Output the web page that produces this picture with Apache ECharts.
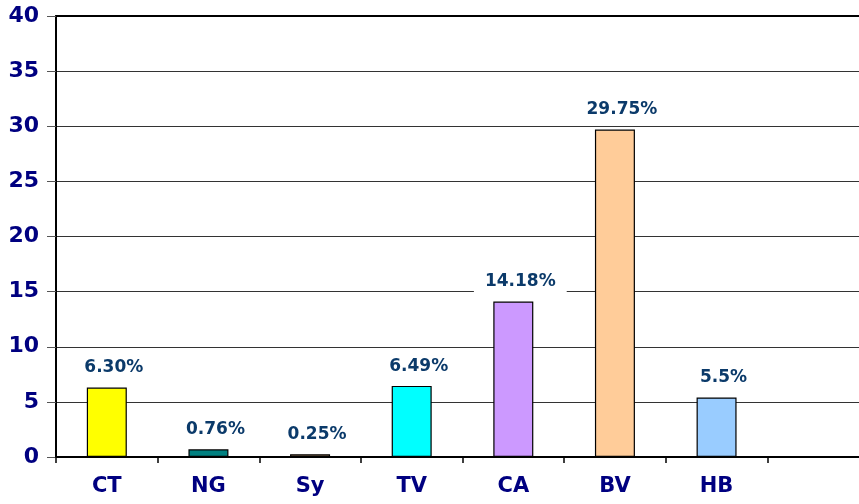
<!DOCTYPE html>
<html>
<head>
<meta charset="utf-8">
<script src="https://cdn.jsdelivr.net/npm/echarts@6/dist/echarts.min.js"></script>
<style>
  html, body { margin: 0; padding: 0; background: #fff; }
  #chart { width: 859px; height: 504px; }
</style>
</head>
<body>
<div id="chart"></div>
<script>
var categories = ['CT', 'NG', 'Sy', 'TV', 'CA', 'BV', 'HB', ''];
var values = [6.3, 0.7, 0.25, 6.45, 14.1, 29.7, 5.4, null];
var labels = ['6.30%', '0.76%', '0.25%', '6.49%', '14.18%', '29.75%', '5.5%', ''];
var colors = ['#FFFF00', '#008080', '#FFCC99', '#00FFFF', '#CC99FF', '#FFCC99', '#99CCFF', '#fff'];

var chart = echarts.init(document.getElementById('chart'));

var barData = values.map(function (v, i) {
    return {
        value: v,
        itemStyle: { color: colors[i] },
        label: { formatter: labels[i] }
    };
});

var font = 'DejaVu Sans, Verdana, sans-serif';

var option = {
    animation: false,
    grid: { left: 56, top: 16, width: 813, bottom: 47, outerBoundsMode: 'none' },
    xAxis: [
        {
            type: 'category',
            data: categories,
            axisLine: { lineStyle: { color: '#000', width: 2 } },
            axisTick: { show: true, length: 6, lineStyle: { color: '#000', width: 1.5 } },
            axisLabel: {
                color: '#000080', fontWeight: 'bold', fontSize: 21,
                fontFamily: font, margin: 19
            }
        },
        {
            type: 'category',
            position: 'top',
            data: categories,
            axisLine: { lineStyle: { color: '#000', width: 2 } },
            axisTick: { show: false },
            axisLabel: { show: false }
        }
    ],
    yAxis: {
        type: 'value',
        min: 0,
        max: 40,
        interval: 5,
        axisLine: { show: true, lineStyle: { color: '#000', width: 2 } },
        axisTick: { show: true, length: 9, lineStyle: { color: '#555' } },
        splitLine: { lineStyle: { color: '#333', width: 1 } },
        axisLabel: {
            color: '#000080', fontWeight: 'bold', fontSize: 22,
            fontFamily: font, margin: 17
        }
    },
    series: [{
        type: 'bar',
        data: barData,
        barWidth: 40,
        itemStyle: { borderColor: '#000', borderWidth: 1.2 },
        label: {
            show: true,
            position: 'top',
            distance: 9,
            offset: [7, 0],
            color: '#0b3a6a',
            fontWeight: 'bold',
            fontSize: 17,
            fontFamily: font,
            backgroundColor: '#fff',
            padding: [2, 11]
        }
    }]
};

chart.setOption(option);
</script>
</body>
</html>
